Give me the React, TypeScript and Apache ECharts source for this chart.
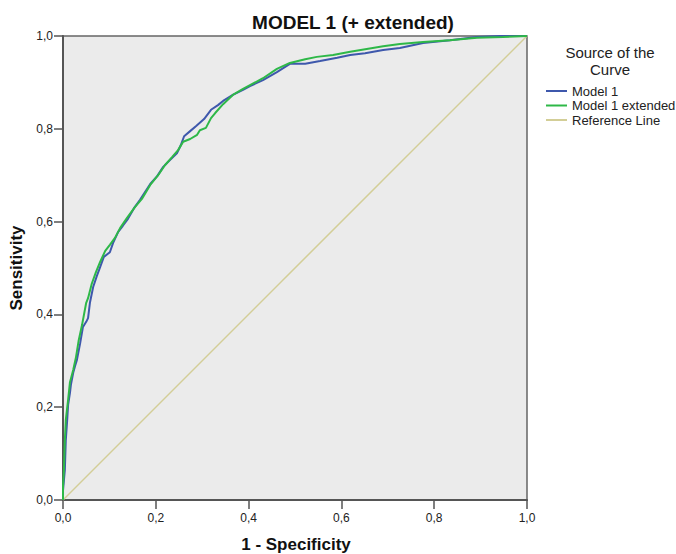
import React, { useEffect, useRef } from "react";
import * as echarts from "echarts";

const title = "MODEL 1 (+ extended)";
const xName = "1 - Specificity";
const yName = "Sensitivity";
const legendTitle = "Source of the\nCurve";
const seriesNames = ["Model 1", "Model 1 extended", "Reference Line"];

const fpr1 = [0, 0, 0.002, 0.004, 0.006, 0.009, 0.011, 0.015, 0.017, 0.022, 0.026, 0.03, 0.037, 0.043, 0.05, 0.054, 0.058, 0.065, 0.073, 0.08, 0.088, 0.101, 0.108, 0.119, 0.129, 0.14, 0.153, 0.166, 0.188, 0.203, 0.216, 0.231, 0.246, 0.254, 0.261, 0.274, 0.287, 0.304, 0.319, 0.334, 0.345, 0.366, 0.388, 0.403, 0.431, 0.461, 0.489, 0.522, 0.554, 0.591, 0.619, 0.651, 0.69, 0.726, 0.776, 0.834, 0.892, 0.942, 1.0];
const tpr1 = [0, 0.02, 0.043, 0.065, 0.129, 0.172, 0.205, 0.231, 0.248, 0.274, 0.289, 0.302, 0.338, 0.373, 0.384, 0.392, 0.425, 0.459, 0.483, 0.502, 0.524, 0.534, 0.554, 0.578, 0.591, 0.606, 0.629, 0.647, 0.681, 0.698, 0.718, 0.733, 0.748, 0.765, 0.784, 0.795, 0.806, 0.821, 0.841, 0.851, 0.86, 0.873, 0.884, 0.892, 0.905, 0.922, 0.94, 0.94, 0.946, 0.953, 0.959, 0.963, 0.97, 0.974, 0.985, 0.991, 0.998, 1.0, 1.0];

const fpr2 = [0, 0, 0.002, 0.004, 0.006, 0.011, 0.015, 0.022, 0.028, 0.034, 0.041, 0.05, 0.054, 0.062, 0.071, 0.08, 0.091, 0.101, 0.112, 0.123, 0.138, 0.155, 0.17, 0.188, 0.205, 0.22, 0.235, 0.248, 0.259, 0.274, 0.289, 0.295, 0.308, 0.319, 0.328, 0.345, 0.366, 0.388, 0.403, 0.431, 0.461, 0.489, 0.522, 0.547, 0.582, 0.619, 0.69, 0.726, 0.776, 0.834, 0.892, 0.948, 1.0];
const tpr2 = [0, 0.03, 0.065, 0.129, 0.172, 0.216, 0.254, 0.28, 0.308, 0.345, 0.377, 0.425, 0.435, 0.466, 0.491, 0.513, 0.537, 0.55, 0.565, 0.586, 0.608, 0.631, 0.649, 0.679, 0.7, 0.722, 0.739, 0.754, 0.772, 0.778, 0.787, 0.797, 0.802, 0.823, 0.834, 0.853, 0.873, 0.886, 0.894, 0.909, 0.929, 0.942, 0.95, 0.955, 0.959, 0.966, 0.978, 0.983, 0.987, 0.991, 0.996, 0.998, 1.0];

const refX = [0, 1];
const refY = [0, 1];

const colors = ["#3E58AC", "#2EB848", "#D3CE97"];

const pairs = (xs: number[], ys: number[]) => xs.map((x, i) => [x, ys[i]]);
const fmt = (v: number) => v.toFixed(1).replace(".", ",");

export default function App() {
  const ref = useRef<HTMLDivElement>(null);
  useEffect(() => {
    document.body.style.margin = "0";
    document.body.style.overflow = "hidden";
    const chart = echarts.init(ref.current!, null, { renderer: "svg" });
    const font = "'Liberation Sans', Arial, sans-serif";
    const axisCommon = {
      type: "value" as const,
      min: 0,
      max: 1,
      interval: 0.2,
      nameLocation: "middle" as const,
      nameTextStyle: { fontSize: 17, fontWeight: "bold", color: "#111", fontFamily: font },
      axisLine: { show: true, onZero: false, lineStyle: { color: "#555", width: 2 } },
      axisTick: { show: true, inside: false, length: 9, lineStyle: { color: "#555", width: 1.5 } },
      axisLabel: { formatter: (v: number) => fmt(v), fontSize: 12, color: "#222", fontFamily: font },
      splitLine: { show: false },
    };
    chart.setOption({
      animation: false,
      color: colors,
      textStyle: { fontFamily: font },
      grid: {
        left: 63,
        top: 36,
        width: 464,
        height: 464,
        containLabel: false,
        outerBoundsMode: "none",
        show: true,
        backgroundColor: "#ebebeb",
        borderColor: "#666",
        borderWidth: 1.5,
      },
      xAxis: { ...axisCommon, axisLabel: { ...axisCommon.axisLabel, margin: 12 } },
      yAxis: { ...axisCommon, name: yName, nameGap: 38, axisLabel: { ...axisCommon.axisLabel, margin: 10 } },
      legend: {
        data: seriesNames,
        orient: "vertical",
        left: 546,
        top: 84,
        icon: "rect",
        itemWidth: 21,
        itemHeight: 2,
        itemGap: 0.5,
        padding: 0,
        textStyle: { fontSize: 13, color: "#222", fontFamily: font, lineHeight: 14 },
      },
      graphic: [
        {
          type: "text",
          x: 353,
          y: 22,
          style: {
            text: title,
            fontSize: 19,
            fontWeight: "bold",
            fill: "#111",
            fontFamily: font,
            align: "center",
            verticalAlign: "middle",
          },
        },
        {
          type: "text",
          x: 610,
          y: 61,
          style: {
            text: legendTitle,
            fontSize: 15,
            fill: "#222",
            fontFamily: font,
            align: "center",
            verticalAlign: "middle",
            lineHeight: 17,
          },
        },
        {
          type: "text",
          x: 296,
          y: 544,
          style: {
            text: xName,
            fontSize: 17,
            fontWeight: "bold",
            fill: "#111",
            fontFamily: font,
            align: "center",
            verticalAlign: "middle",
          },
        },
      ],
      series: [
        {
          name: seriesNames[0],
          type: "line",
          data: pairs(fpr1, tpr1),
          showSymbol: false,
          symbol: "none",
          lineStyle: { width: 2, color: colors[0] },
          z: 3,
        },
        {
          name: seriesNames[1],
          type: "line",
          data: pairs(fpr2, tpr2),
          showSymbol: false,
          symbol: "none",
          lineStyle: { width: 2, color: colors[1] },
          z: 4,
        },
        {
          name: seriesNames[2],
          type: "line",
          data: pairs(refX, refY),
          showSymbol: false,
          symbol: "none",
          lineStyle: { width: 1.5, color: colors[2] },
          z: 2,
        },
      ],
    });
    return () => chart.dispose();
  }, []);
  return <div ref={ref} style={{ position: "absolute", left: 0, top: 0, width: 676, height: 554 }} />;
}
